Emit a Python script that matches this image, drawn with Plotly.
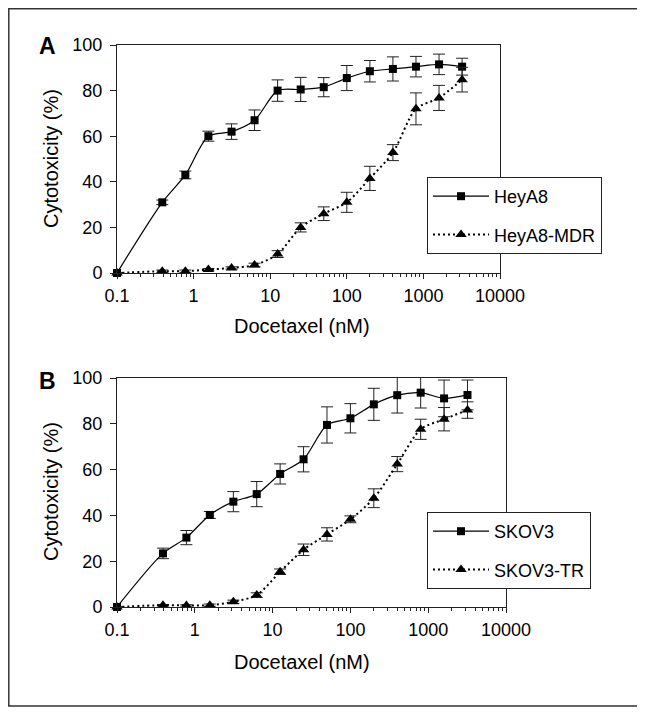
import plotly.graph_objects as go

# Docetaxel concentrations (nM); the 0 nM control is plotted at 0.1
conc = [0.1, 0.39, 0.78, 1.56, 3.13, 6.25, 12.5, 25, 50, 100, 200, 400, 800, 1600, 3200]

heya8 = [0, 31, 43, 60, 62, 67, 80, 80.5, 81.5, 85.5, 88.5, 89.5, 90.5, 91.5, 90.5]
heya8_err = [0, 1, 1.7, 2.2, 3.4, 4.5, 4.7, 5.3, 4.2, 5.5, 4.7, 5.3, 4.5, 4.5, 3.7]
heya8_mdr = [0, 0.8, 0.8, 1.5, 2.2, 3.5, 8.3, 20, 26, 31, 41.5, 52.8, 72, 76.8, 84.8]
heya8_mdr_err = [0, 0.5, 0.5, 0.5, 0.5, 0.8, 1.5, 2, 3, 4.4, 5.3, 3.5, 7, 5.5, 5.4]

skov3 = [0, 23.4, 30.3, 40.2, 46, 49.3, 58.1, 64.5, 79.5, 82.4, 88.5, 92.5, 93.6, 91.1, 92.6]
skov3_err = [0, 2.3, 3.1, 1.5, 4.4, 5.5, 4.4, 5.5, 7.9, 6.4, 7, 7.8, 6.7, 8, 6.5]
skov3_tr = [0, 0.8, 0.7, 0.8, 2.3, 5.2, 15.4, 25, 31.7, 38.3, 47.5, 62.4, 77.6, 82, 86]
skov3_tr_err = [0, 0.3, 0.3, 0.5, 0.7, 1, 1.2, 2.5, 2.9, 1.5, 4.1, 3.3, 4.4, 5.1, 3.6]

x_ticks = [0.1, 1, 10, 100, 1000, 10000]
x_ticklabels = ["0.1", "1", "10", "100", "1000", "10000"]
y_ticks = [0, 20, 40, 60, 80, 100]

x_title = "Docetaxel (nM)"
y_title = "Cytotoxicity (%)"

FONT = "Arial, Liberation Sans, Helvetica, sans-serif"
INK = "#222"
# the page body has an 8px margin, so the figure is sized/placed to compensate
OFF = 8
W, H = 645 - OFF, 715 - OFF

fig = go.Figure()


def add_series(name, y, err, xa, ya, legend, symbol, dash, lw, msize, group):
    fig.add_trace(go.Scatter(
        x=conc, y=y, name=name, xaxis=xa, yaxis=ya, legend=legend,
        legendgroup=group,
        mode="lines+markers",
        line=dict(color="black", width=lw, dash=dash, shape="spline", smoothing=0.8),
        marker=dict(symbol=symbol, size=msize, color="black"),
        error_y=dict(type="data", array=err, visible=True, color=INK,
                     thickness=1, width=6),
        cliponaxis=False,
    ))


add_series("HeyA8", heya8, heya8_err, "x", "y", "legend", "square", "solid", 1.2, 8, "a1")
add_series("HeyA8-MDR", heya8_mdr, heya8_mdr_err, "x", "y", "legend", "triangle-up", "2px,3px", 2, 10, "a2")
add_series("SKOV3", skov3, skov3_err, "x2", "y2", "legend2", "square", "solid", 1.2, 8, "b1")
add_series("SKOV3-TR", skov3_tr, skov3_tr_err, "x2", "y2", "legend2", "triangle-up", "2px,3px", 2, 10, "b2")


def px_x(p):
    return (p - OFF) / W


def px_y(p):
    return 1 - (p - OFF) / H


xaxis_common = dict(
    type="log", range=[-1, 4], tickvals=x_ticks, ticktext=x_ticklabels,
    automargin=False,
    showgrid=False, zeroline=False, showline=True, linecolor=INK, linewidth=1,
    mirror=True, ticks="outside", ticklen=5, tickcolor=INK,
    minor=dict(ticks="outside", ticklen=3, dtick="D1", tickcolor=INK, showgrid=False),
    tickfont=dict(family=FONT, size=18, color="black"),
    ticklabelstandoff=1,
)
yaxis_common = dict(
    range=[0, 100], tickvals=y_ticks,
    automargin=False,
    showgrid=False, zeroline=False, showline=True, linecolor=INK, linewidth=1,
    mirror=True, ticks="outside", ticklen=6, tickcolor=INK,
    tickfont=dict(family=FONT, size=18, color="black"),
    ticklabelstandoff=4,
)

legend_common = dict(
    bgcolor="white", bordercolor=INK, borderwidth=1,
    font=dict(family=FONT, size=18, color="black"),
    xanchor="left", yanchor="top", traceorder="grouped", tracegroupgap=12,
    itemwidth=56,
)

title_font = dict(family=FONT, size=20, color="black")


def label(text, x, y, size=20, bold=False, angle=0):
    return dict(text=f"<b>{text}</b>" if bold else text, x=px_x(x), y=px_y(y),
                xref="paper", yref="paper", xanchor="center", yanchor="middle",
                showarrow=False, textangle=angle,
                font=dict(family=FONT, size=size, color="black"))


fig.update_layout(
    width=W, height=H,
    margin=dict(l=0, r=0, t=0, b=0),
    paper_bgcolor="white", plot_bgcolor="white",
    showlegend=True,
    xaxis=dict(domain=[px_x(117), px_x(500)], anchor="y", **xaxis_common),
    yaxis=dict(domain=[px_y(273), px_y(45)], anchor="x", **yaxis_common),
    xaxis2=dict(domain=[px_x(117), px_x(506)], anchor="y2", **xaxis_common),
    yaxis2=dict(domain=[px_y(607), px_y(378)], anchor="x2", **yaxis_common),
    legend=dict(x=px_x(427), y=px_y(177), **legend_common),
    legend2=dict(x=px_x(427), y=px_y(512), **legend_common),
    shapes=[dict(type="rect", xref="paper", yref="paper",
                 x0=px_x(8.8), x1=px_x(638), y0=px_y(706), y1=px_y(8.8),
                 line=dict(color="#333", width=1.5))],
    annotations=[
        label("A", 47, 46, size=23, bold=True),
        label("B", 47, 381, size=23, bold=True),
        label(x_title, 302, 326),
        label(x_title, 302, 662),
        label(y_title, 51, 159, angle=-90),
        label(y_title, 51, 492, angle=-90),
    ],
)

fig.write_html("out.html")
